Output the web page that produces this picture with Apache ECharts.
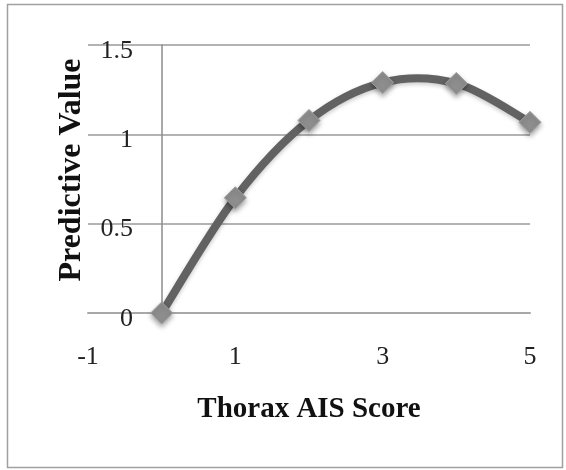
<!DOCTYPE html>
<html>
<head>
<meta charset="utf-8">
<script src="https://cdn.jsdelivr.net/npm/echarts@6/dist/echarts.min.js"></script>
<style>
  html, body { margin: 0; padding: 0; background: #fff; }
  #chart { width: 566px; height: 470px; }
</style>
</head>
<body>
<div id="chart"></div>
<script>
// Thorax AIS score vs. predictive value
const aisScores = [0, 1, 2, 3, 4, 5];
const predictiveValues = [0, 0.645, 1.078, 1.29, 1.285, 1.067];
const xTickValues = [-1, 1, 3, 5];
const yTickValues = [0, 0.5, 1, 1.5];

const serif = '"Liberation Serif", "DejaVu Serif", serif';
const points = aisScores.map((x, i) => [x, predictiveValues[i]]);

// Catmull-Rom style smoothing: each segment i -> i+1 becomes a cubic Bezier
// whose control points come from the neighbouring points (tension 1/6).
function renderSegment(params, api) {
  const i = params.dataIndex;
  if (i >= points.length - 1) return null;
  const p0 = api.coord(points[Math.max(i - 1, 0)]);
  const p1 = api.coord(points[i]);
  const p2 = api.coord(points[i + 1]);
  const p3 = api.coord(points[Math.min(i + 2, points.length - 1)]);
  const t = 1 / 6;
  return {
    type: 'bezierCurve',
    shape: {
      x1: p1[0], y1: p1[1],
      x2: p2[0], y2: p2[1],
      cpx1: p1[0] + (p2[0] - p0[0]) * t,
      cpy1: p1[1] + (p2[1] - p0[1]) * t,
      cpx2: p2[0] - (p3[0] - p1[0]) * t,
      cpy2: p2[1] - (p3[1] - p1[1]) * t
    },
    style: {
      fill: null,
      stroke: '#626262',
      lineWidth: 8,
      lineCap: 'round',
      shadowColor: 'rgba(0,0,0,0.22)',
      shadowBlur: 4,
      shadowOffsetY: 2
    }
  };
}

const chart = echarts.init(document.getElementById('chart'), null, { renderer: 'canvas' });

chart.setOption({
  backgroundColor: '#ffffff',
  animation: false,
  grid: { left: 88, right: 36, top: 45, bottom: 157, containLabel: false, outerBoundsMode: 'none' },
  graphic: [
    {
      type: 'rect',
      shape: { x: 7.5, y: 4.5, width: 555, height: 463 },
      style: { fill: 'none', stroke: '#a0a0a0', lineWidth: 1.5 },
      z: -1
    }
  ],
  xAxis: {
    type: 'value',
    min: -1,
    max: 5,
    name: 'Thorax AIS Score',
    nameLocation: 'middle',
    nameGap: 82,
    nameTextStyle: { fontFamily: serif, fontWeight: 'bold', fontSize: 29, color: '#111' },
    axisLine: { show: true, lineStyle: { color: '#a8a8a8', width: 2 } },
    axisTick: { show: false },
    splitLine: { show: false },
    axisLabel: {
      customValues: xTickValues,
      fontFamily: serif,
      fontSize: 26,
      color: '#222',
      margin: 31
    }
  },
  yAxis: {
    type: 'value',
    min: 0,
    max: 1.5,
    interval: 0.5,
    name: 'Predictive Value',
    nameLocation: 'middle',
    nameGap: 0,
    nameRotate: 90,
    nameTextStyle: { fontFamily: serif, fontWeight: 'bold', fontSize: 32, color: '#111', padding: [0, 0, 0, 18] },
    axisLine: { show: true, onZero: true, lineStyle: { color: '#8c8c8c', width: 1.5 } },
    axisTick: { show: false },
    splitLine: { show: true, lineStyle: { color: '#9a9a9a', width: 1.5 } },
    axisLabel: {
      customValues: yTickValues,
      fontFamily: serif,
      fontSize: 26,
      color: '#222',
      margin: -45,
      verticalAlign: 'top',
      lineHeight: 12
    }
  },
  series: [
    {
      type: 'custom',
      data: points,
      renderItem: renderSegment,
      encode: { x: 0, y: 1 },
      z: 2
    },
    {
      type: 'line',
      data: points,
      lineStyle: { opacity: 0 },
      symbol: 'diamond',
      symbolSize: 22,
      itemStyle: {
        color: '#8e8e8e',
        borderColor: '#a0a0a0',
        borderWidth: 1,
        shadowColor: 'rgba(0,0,0,0.35)',
        shadowBlur: 5,
        shadowOffsetY: 3
      },
      z: 3
    }
  ]
});
</script>
</body>
</html>
